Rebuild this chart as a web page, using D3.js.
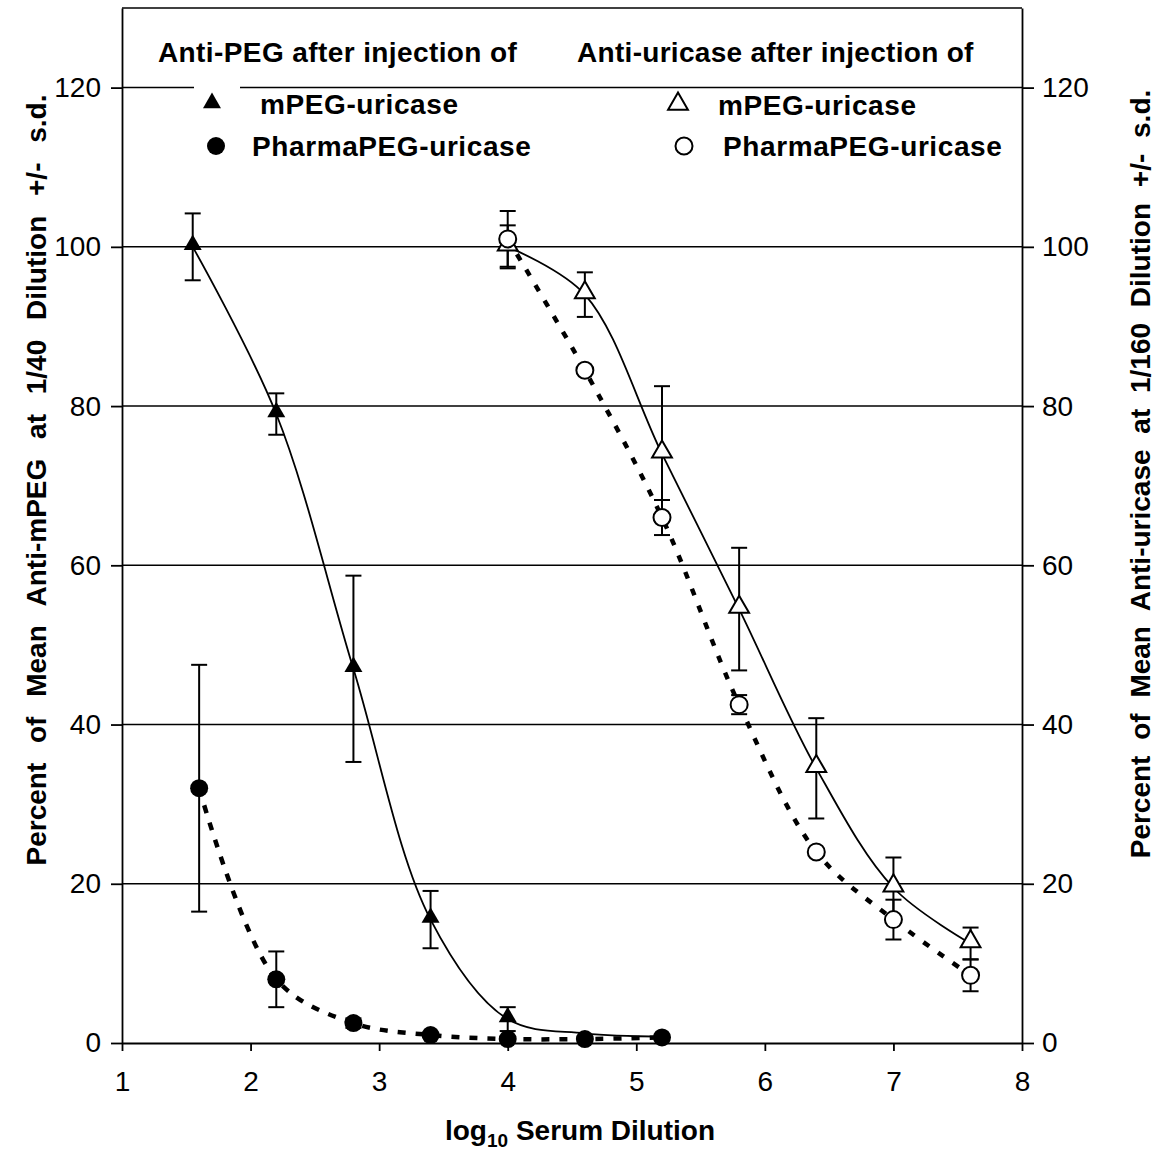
<!DOCTYPE html>
<html>
<head>
<meta charset="utf-8">
<script src="https://cdn.jsdelivr.net/npm/d3@7"></script>
<style>
  body { margin: 0; background: #fff; }
  text { font-family: "Liberation Sans", Arial, sans-serif; fill: #000; }
</style>
</head>
<body>
<div class="canvas"></div>
<script>
// log10 dilutions of the two studies
const xPeg = [1.55, 2.2, 2.8, 3.4, 4.0, 4.6, 5.2];
const xPegCircle = [1.6, 2.2, 2.8, 3.4, 4.0, 4.6, 5.2];
const xUricase = [4.0, 4.6, 5.2, 5.8, 6.4, 7.0, 7.6];

// anti-PEG (left axis)
const pegMpeg = [100, 79, 47, 15.5, 3, 1.2, 0.8];
const pegMpegSd = [4.2, 2.6, 11.7, 3.6, 1.5, 0, 0];
const pegPharma = [32, 8, 2.5, 1, 0.5, 0.5, 0.7];
const pegPharmaSd = [15.5, 3.5, 0.6, 0, 0, 0, 0];

// anti-uricase (right axis)
const uriMpeg = [100, 94, 74, 54.5, 34.5, 19.5, 12.5];
const uriMpegSd = [2.7, 2.8, 8.5, 7.7, 6.3, 3.8, 2];
const uriPharma = [101, 84.5, 66, 42.5, 24, 15.5, 8.5];
const uriPharmaSd = [3.5, 0, 2.2, 1.2, 0, 2.5, 2];

const xTicks = [1, 2, 3, 4, 5, 6, 7, 8];
const yTicks = [0, 20, 40, 60, 80, 100, 120];

const plotLeft = 122, plotRight = 1022, plotTop = 8, plotBottom = 1043;

const svg = d3.select('.canvas')
  .append('svg')
   .attr('width', 1156)
   .attr('height', 1153);

const x = d3.scaleLinear().domain([1, 8]).range([plotLeft, plotRight]);
const y = d3.scaleLinear().domain([0, 130]).range([plotBottom, plotTop]);

// gridlines
svg.append('g').selectAll('line')
  .data(yTicks.filter(d => d > 0))
  .enter().append('line')
   .attr('x1', plotLeft).attr('x2', plotRight)
   .attr('y1', d => y(d)).attr('y2', d => y(d))
   .attr('stroke', '#000').attr('stroke-width', 1.5);

// frame top
svg.append('line')
  .attr('x1', plotLeft).attr('x2', plotRight).attr('y1', plotTop).attr('y2', plotTop)
  .attr('stroke', '#000').attr('stroke-width', 1.5);

// axes
const leftAxis = svg.append('g').attr('transform', `translate(${plotLeft},0)`)
  .call(d3.axisLeft(y).tickValues(yTicks).tickSize(11).tickSizeOuter(0).tickPadding(10));
const rightAxis = svg.append('g').attr('transform', `translate(${plotRight},0)`)
  .call(d3.axisRight(y).tickValues(yTicks).tickSize(12).tickSizeOuter(0).tickPadding(8));
const bottomAxis = svg.append('g').attr('transform', `translate(0,${plotBottom})`)
  .call(d3.axisBottom(x).tickValues(xTicks).tickFormat(d3.format('d'))
    .tickSize(8).tickSizeOuter(0).tickPadding(20));

[leftAxis, rightAxis, bottomAxis].forEach(g => {
  g.selectAll('path, line').attr('stroke', '#000').attr('stroke-width', 1.8);
  g.selectAll('text')
   .style('font-size', '28px')
   .style('font-family', '"Liberation Sans", Arial, sans-serif')
   .attr('fill', '#000');
});

// curves
const curve = d3.line().curve(d3.curveCatmullRom.alpha(0.5));
const pts = (xs, ys) => xs.map((v, i) => [x(v), y(ys[i])]);

svg.append('path').attr('d', curve(pts(xPeg, pegMpeg)))
  .attr('fill', 'none').attr('stroke', '#000').attr('stroke-width', 1.8);
svg.append('path').attr('d', curve(pts(xPegCircle, pegPharma)))
  .attr('fill', 'none').attr('stroke', '#000').attr('stroke-width', 4.5)
  .attr('stroke-dasharray', '8,10');
svg.append('path').attr('d', curve(pts(xUricase, uriMpeg)))
  .attr('fill', 'none').attr('stroke', '#000').attr('stroke-width', 1.8);
svg.append('path').attr('d', curve(pts(xUricase, uriPharma)))
  .attr('fill', 'none').attr('stroke', '#000').attr('stroke-width', 4.5)
  .attr('stroke-dasharray', '7,11');

// error bars
function errorBars(xs, ys, sds) {
  const g = svg.append('g').attr('stroke', '#000').attr('stroke-width', 2);
  xs.forEach((v, i) => {
    if (!sds[i]) return;
    const cx = x(v), hi = y(ys[i] + sds[i]), lo = y(ys[i] - sds[i]);
    g.append('line').attr('x1', cx).attr('x2', cx).attr('y1', hi).attr('y2', lo);
    g.append('line').attr('x1', cx - 8).attr('x2', cx + 8).attr('y1', hi).attr('y2', hi);
    g.append('line').attr('x1', cx - 8).attr('x2', cx + 8).attr('y1', lo).attr('y2', lo);
  });
}
errorBars(xPeg, pegMpeg, pegMpegSd);
errorBars(xPegCircle, pegPharma, pegPharmaSd);
errorBars(xUricase, uriMpeg, uriMpegSd);
errorBars(xUricase, uriPharma, uriPharmaSd);

// markers
const tri = d3.symbol().type(d3.symbolTriangle).size(140);
const triOpen = d3.symbol().type(d3.symbolTriangle).size(170);

function markers(xs, ys, kind) {
  const sel = svg.append('g').selectAll('.m')
    .data(xs.map((v, i) => [v, ys[i]]))
    .enter();
  if (kind === 'tri') {
    sel.append('path').attr('d', tri)
      .attr('transform', d => `translate(${x(d[0])},${y(d[1]) - 2})`)
      .attr('fill', '#000');
  } else if (kind === 'triOpen') {
    sel.append('path').attr('d', triOpen)
      .attr('transform', d => `translate(${x(d[0])},${y(d[1]) - 2})`)
      .attr('fill', '#fff').attr('stroke', '#000').attr('stroke-width', 2);
  } else if (kind === 'dot') {
    sel.append('circle').attr('cx', d => x(d[0])).attr('cy', d => y(d[1])).attr('r', 9)
      .attr('fill', '#000');
  } else {
    sel.append('circle').attr('cx', d => x(d[0])).attr('cy', d => y(d[1])).attr('r', 8.5)
      .attr('fill', '#fff').attr('stroke', '#000').attr('stroke-width', 2);
  }
}
markers(xPeg.slice(0, 5), pegMpeg.slice(0, 5), 'tri');
markers(xPegCircle, pegPharma, 'dot');
markers(xUricase, uriMpeg, 'triOpen');
markers(xUricase, uriPharma, 'circleOpen');

// legend
const legend = svg.append('g');
legend.append('text').attr('x', 158).attr('y', 62)
  .style('font-size', '28px').style('font-weight', 'bold').style('letter-spacing', '0.4px')
  .text('Anti-PEG after injection of');
legend.append('text').attr('x', 577).attr('y', 62)
  .style('font-size', '28px').style('font-weight', 'bold').style('letter-spacing', '0.3px')
  .text('Anti-uricase after injection of');

legend.append('rect').attr('x', 194).attr('y', 84).attr('width', 46).attr('height', 8).attr('fill', '#fff');
legend.append('path').attr('d', tri).attr('transform', 'translate(212,103)').attr('fill', '#000');
legend.append('circle').attr('cx', 216).attr('cy', 146).attr('r', 9).attr('fill', '#000');
legend.append('path').attr('d', triOpen).attr('transform', 'translate(678,104)')
  .attr('fill', '#fff').attr('stroke', '#000').attr('stroke-width', 2);
legend.append('circle').attr('cx', 684).attr('cy', 146).attr('r', 8.5)
  .attr('fill', '#fff').attr('stroke', '#000').attr('stroke-width', 2);

[[260, 114, 'mPEG-uricase'], [252, 156, 'PharmaPEG-uricase'],
 [718, 115, 'mPEG-uricase'], [723, 156, 'PharmaPEG-uricase']].forEach(d => {
  legend.append('text').attr('x', d[0]).attr('y', d[1])
    .style('font-size', '28px').style('font-weight', 'bold').style('letter-spacing', '0.6px')
    .text(d[2]);
});

// axis titles
svg.append('text')
  .attr('transform', 'translate(46,480) rotate(-90)')
  .attr('text-anchor', 'middle')
  .style('font-size', '28px').style('font-weight', 'bold').style('word-spacing', '12px')
  .text('Percent of Mean Anti-mPEG at 1/40 Dilution +/- s.d.');

svg.append('text')
  .attr('transform', 'translate(1150,474) rotate(-90)')
  .attr('text-anchor', 'middle')
  .style('font-size', '28px').style('font-weight', 'bold').style('word-spacing', '8px')
  .text('Percent of Mean Anti-uricase at 1/160 Dilution +/- s.d.');

const xTitle = svg.append('text')
  .attr('x', 580).attr('y', 1140)
  .attr('text-anchor', 'middle')
  .style('font-size', '28px').style('font-weight', 'bold');
xTitle.append('tspan').text('log');
xTitle.append('tspan').attr('dy', 7).style('font-size', '19px').text('10');
xTitle.append('tspan').attr('dy', -7).text(' Serum Dilution');
</script>
</body>
</html>
